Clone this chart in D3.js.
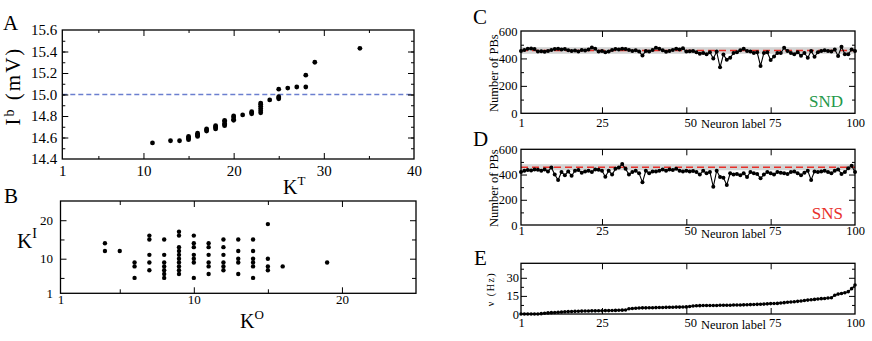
<!DOCTYPE html>
<html><head><meta charset="utf-8">
<script src="https://cdn.jsdelivr.net/npm/d3@7"></script>
<style>
body{margin:0;background:#fff}
svg{display:block}
text{font-family:"Liberation Serif","Times New Roman",Times,"DejaVu Serif",serif;fill:#000}
</style>
</head><body>
<svg id="c" width="872" height="341"></svg>
<script>
// ---------- DATA ----------
// Panel A : I^b versus K^T
const kT = [11,13,14,15,15,15,15,16,16,16,16,17,17,17,18,18,18,18,19,19,19,19,19,20,20,20,20,21,22,22,22,23,23,23,23,23,23,24,25,25,25,25,26,27,28,28,29,34];
const Ib = [14.55,14.57,14.57,14.58,14.59,14.60,14.61,14.61,14.62,14.63,14.64,14.66,14.67,14.68,14.68,14.69,14.70,14.71,14.71,14.72,14.73,14.75,14.76,14.76,14.77,14.79,14.80,14.81,14.82,14.83,14.84,14.83,14.85,14.87,14.89,14.91,14.92,14.95,14.96,14.97,14.98,15.05,15.06,15.07,15.07,15.18,15.30,15.43];
const IbThreshold = 15.0;
const aXLabels = [1,10,20,30,40];
const aYLabels = [14.4,14.6,14.8,15.0,15.2,15.4,15.6];

// Panel B : K^I versus K^O
const kO = [4,4,5,6,6,6,7,7,7,7,7,8,8,8,8,8,8,8,9,9,9,9,9,9,9,9,9,9,10,10,10,10,10,10,10,11,11,11,11,11,11,12,12,12,12,12,12,13,13,13,13,13,14,14,14,14,14,14,15,15,15,15,16,19];
const kI = [14,12,12,9,8,5,16,15,11,9,7,15,11,9,8,7,6,5,17,16,13,12,11,10,9,8,7,6,16,14,13,11,10,9,5,14,13,11,9,8,6,15,13,11,9,8,7,15,12,10,9,6,15,12,10,9,8,5,19,10,8,7,8,9];
const bLabels = [1,10,20];

// Panels C, D, E : per neuron (label 1..100)
const neuronLabels = [1,2,3,4,5,6,7,8,9,10,11,12,13,14,15,16,17,18,19,20,21,22,23,24,25,26,27,28,29,30,31,32,33,34,35,36,37,38,39,40,41,42,43,44,45,46,47,48,49,50,51,52,53,54,55,56,57,58,59,60,61,62,63,64,65,66,67,68,69,70,71,72,73,74,75,76,77,78,79,80,81,82,83,84,85,86,87,88,89,90,91,92,93,94,95,96,97,98,99,100];
const pbSND = [455,462,470,472,468,450,452,448,455,462, 468,470,465,468,460,455,458,450,462,458,
               465,480,470,450,455,445,450,462,468,465, 470,468,462,455,460,450,421,455,450,462,
               478,470,460,448,455,462,470,465,475,450, 452,455,445,435,440,430,445,400,450,335,
               428,390,405,440,445,460,470,455,450,440, 445,345,440,445,388,415,440,440,478,455,
               440,430,445,420,440,405,455,412,445,455, 460,455,450,465,418,485,430,430,465,455];
const pbSNS = [420,430,435,432,440,438,430,440,425,455, 400,357,420,395,425,390,430,435,415,425,
               430,420,440,438,430,383,430,400,445,455, 483,445,400,420,430,410,338,430,410,425,
               425,430,440,430,440,435,445,430,425,430, 425,428,420,400,430,410,420,303,430,380,
               375,318,410,400,405,395,410,380,420,410, 405,370,400,420,410,400,420,415,410,405,
               420,425,410,395,415,430,357,425,420,425, 430,420,410,430,440,405,420,450,470,420];
const pbMean = 458;
const pbBand = [434,482];
const rateHz = [0,0,0,0,0,0,0.3,0.6,0.9,1.1, 1.3,1.5,1.7,1.9,2.0,2.1,2.2,2.3,2.4,2.5,
                2.5,2.6,2.6,2.7,2.7,2.8,2.8,2.9,3.0,3.1, 3.2,3.3,4.3,4.6,4.8,5.0,5.1,5.1,5.2,5.2,
                5.3,5.4,5.4,5.5,5.6,5.6,5.7,5.7,5.8,5.9, 6.2,6.6,6.8,6.9,7.0,7.0,7.0,7.1,7.1,7.2,
                7.2,7.3,7.3,7.4,7.4,7.5,7.6,7.7,7.8,7.9, 8.0,8.1,8.2,8.4,8.6,8.7,8.8,9.1,9.4,9.7,
                10.0,10.2,10.5,10.8,11.2,11.5,11.8,12.1,12.4,12.7, 12.9,13.2,13.5,15.5,16.5,17.0,17.6,18.5,21.0,24.0];
const nXLabels = [1,25,50,75,100];
const pbYLabels = [0,200,400,600];
const eYLabels = [0,15,30];

// ---------- DRAW ----------
const svg = d3.select("#c");
const FONT = '"Liberation Serif","Times New Roman",Times,"DejaVu Serif",serif';

function ticks(g, x, y, xMaj, xMin, yMaj, yMin, L, l) {
  const [X0, X1] = x.range(), [Y1, Y0] = y.range();
  const put = (axis, vals, size, tr) => {
    g.append("g").attr("transform", tr)
      .call(axis.tickValues(vals).tickSize(-size).tickFormat(""))
      .call(s => s.select(".domain").remove())
      .selectAll("line").attr("stroke", "#000").attr("stroke-width", 1);
  };
  put(d3.axisBottom(x), xMaj, L, `translate(0,${Y1})`);
  put(d3.axisBottom(x), xMin, l, `translate(0,${Y1})`);
  put(d3.axisTop(x), xMaj, L, `translate(0,${Y0})`);
  put(d3.axisTop(x), xMin, l, `translate(0,${Y0})`);
  put(d3.axisLeft(y), yMaj, L, `translate(${X0},0)`);
  put(d3.axisLeft(y), yMin, l, `translate(${X0},0)`);
  put(d3.axisRight(y), yMaj, L, `translate(${X1},0)`);
  put(d3.axisRight(y), yMin, l, `translate(${X1},0)`);
  g.append("rect").attr("x", X0).attr("y", Y0).attr("width", X1 - X0).attr("height", Y1 - Y0)
    .attr("fill", "none").attr("stroke", "#000").attr("stroke-width", 1.3);
}
function labels(g, x, y, xl, yl, fs, xpad, ypad, xfmt, yfmt) {
  const [X0] = x.range(), [Y1] = y.range();
  const gx = g.append("g").attr("transform", `translate(0,${Y1})`)
    .call(d3.axisBottom(x).tickValues(xl).tickSize(0).tickPadding(xpad).tickFormat(xfmt || d3.format("d")))
    .call(s => s.select(".domain").remove())
    .attr("font-family", FONT).attr("font-size", fs);
  g.append("g").attr("transform", `translate(${X0},0)`)
    .call(d3.axisLeft(y).tickValues(yl).tickSize(0).tickPadding(ypad).tickFormat(yfmt || d3.format("d")))
    .call(s => s.select(".domain").remove())
    .attr("font-family", FONT).attr("font-size", fs);
  return gx;
}
function letter(t, x, y) {
  svg.append("text").attr("x", x).attr("y", y).attr("font-size", 21).text(t);
}
// neuron-label axes: the 50 and 75 labels sit a little right of their ticks
function nudge(gx) {
  gx.selectAll(".tick text").attr("dx", d => (d === 50 || d === 75) ? 4 : 0);
}

// ----- Panel A -----
{
  const g = svg.append("g");
  const x = d3.scaleLinear().domain([1, 40]).range([62.3, 414]);
  const y = d3.scaleLinear().domain([14.4, 15.6]).range([159, 30]);
  g.append("line").attr("x1", x(1)).attr("x2", x(40)).attr("y1", y(IbThreshold)).attr("y2", y(IbThreshold))
    .attr("stroke", "#6b7fcf").attr("stroke-width", 1.5).attr("stroke-dasharray", "5,3");
  ticks(g, x, y, [10,20,30], [5,15,25,35], [14.6,14.8,15.0,15.2,15.4], d3.range(14.5, 15.6, 0.1), 6, 3);
  labels(g, x, y, aXLabels, aYLabels, 15, 6.3, 5, d3.format("d"), d3.format(".1f"));
  g.selectAll("circle.a").data(kT).join("circle").attr("class", "a")
    .attr("cx", (d) => x(d)).attr("cy", (d, i) => y(Ib[i])).attr("r", 2.4).attr("fill", "#000");
  letter("A", 3, 30);
  const yl = g.append("text").attr("transform", "translate(20,86) rotate(-90)")
    .attr("text-anchor", "middle").attr("font-size", 21).attr("letter-spacing", 2);
  yl.append("tspan").text("I");
  yl.append("tspan").attr("dy", -6).attr("font-size", 14).text("b");
  yl.append("tspan").attr("dy", 6).text(" (mV)");
  const xl = g.append("text").attr("x", 283).attr("y", 194).attr("font-size", 20);
  xl.append("tspan").text("K");
  xl.append("tspan").attr("dy", -9).attr("font-size", 13).text("T");
}

// ----- Panel B -----
{
  const g = svg.append("g");
  const x = d3.scaleLinear().domain([1, 25]).range([60.5, 416]);
  const y = d3.scaleLinear().domain([1, 25]).range([293.3, 201]);
  ticks(g, x, y, [10,20], [5,15], [10,20], [5,15], 6, 4);
  labels(g, x, y, bLabels, bLabels, 13, 1.5, 7.5);
  g.selectAll("circle.b").data(kO).join("circle").attr("class", "b")
    .attr("cx", (d) => x(d)).attr("cy", (d, i) => y(kI[i])).attr("r", 2.2).attr("fill", "#000");
  letter("B", 4, 203);
  const yl = g.append("text").attr("x", 17).attr("y", 248).attr("font-size", 21);
  yl.append("tspan").text("K");
  yl.append("tspan").attr("dy", -10).attr("font-size", 14).text("I");
  const xl = g.append("text").attr("x", 240).attr("y", 328).attr("font-size", 20);
  xl.append("tspan").text("K");
  xl.append("tspan").attr("dy", -9).attr("font-size", 13).text("O");
}

// ----- Panels C & D -----
function pbPanel(vals, y0, y1, lbl, lblColor, letterY, xlabBase, nlShift, letterChar) {
  const g = svg.append("g");
  const x = d3.scaleLinear().domain([1, 100]).range([521, 855]);
  const y = d3.scaleLinear().domain([0, 600]).range([y1, y0]);
  g.append("rect").attr("x", x(1)).attr("width", x(100) - x(1))
    .attr("y", y(pbBand[1])).attr("height", y(pbBand[0]) - y(pbBand[1])).attr("fill", "#d4d4d4");
  g.append("line").attr("x1", x(1)).attr("x2", x(100)).attr("y1", y(pbMean)).attr("y2", y(pbMean))
    .attr("stroke", "#e8302a").attr("stroke-width", 1.6).attr("stroke-dasharray", "7,4");
  g.append("path").datum(vals)
    .attr("d", d3.line().x((d, i) => x(neuronLabels[i])).y(d => y(d)))
    .attr("fill", "none").attr("stroke", "#000").attr("stroke-width", 1.1);
  g.selectAll("circle").data(vals).join("circle")
    .attr("cx", (d, i) => x(neuronLabels[i])).attr("cy", d => y(d)).attr("r", 2).attr("fill", "#000");
  ticks(g, x, y, [25,50,75], [], [200,400], [100,300,500], 6, 3);
  nudge(labels(g, x, y, nXLabels, pbYLabels, 12.5, xlabBase - y1 - 8.9, 3.5));
  g.append("text").attr("x", x(62.5) + 5).attr("y", xlabBase + nlShift).attr("text-anchor", "middle")
    .attr("font-size", 12.5).text("Neuron label");
  g.append("text").attr("transform", `translate(498,${(y0 + y1) / 2 + 1}) rotate(-90)`)
    .attr("text-anchor", "middle").attr("font-size", 12.5).text("Number of PBs");
  g.append("text").attr("x", 843).attr("y", y1 - 6).attr("text-anchor", "end")
    .attr("font-size", 17).style("fill", lblColor).text(lbl);
  letter(letterChar, 473, letterY);
}
pbPanel(pbSND, 31, 113.3, "SND", "#24984a", 24, 127, 1, "C");
pbPanel(pbSNS, 149.3, 225, "SNS", "#e8302a", 146, 235, 3, "D");

// ----- Panel E -----
{
  const g = svg.append("g");
  const x = d3.scaleLinear().domain([1, 100]).range([521, 855]);
  const y = d3.scaleLinear().domain([0, 42]).range([314, 263.3]);
  g.append("path").datum(rateHz)
    .attr("d", d3.line().x((d, i) => x(neuronLabels[i])).y(d => y(d)))
    .attr("fill", "none").attr("stroke", "#000").attr("stroke-width", 1.1);
  g.selectAll("circle").data(rateHz).join("circle")
    .attr("cx", (d, i) => x(neuronLabels[i])).attr("cy", d => y(d)).attr("r", 1.8).attr("fill", "#000");
  ticks(g, x, y, [25,50,75], [], [15,30], [7.5,22.5,37.5], 6, 3);
  nudge(labels(g, x, y, nXLabels, eYLabels, 12.5, 4, 2));
  g.append("text").attr("x", x(62.5) + 5).attr("y", 329).attr("text-anchor", "middle")
    .attr("font-size", 12.5).text("Neuron label");
  g.append("text").attr("transform", `translate(494,289) rotate(-90)`)
    .attr("text-anchor", "middle").attr("font-size", 10).attr("letter-spacing", 1.5).text("ν (Hz)");
  letter("E", 474, 265);
}
</script>
</body></html>
